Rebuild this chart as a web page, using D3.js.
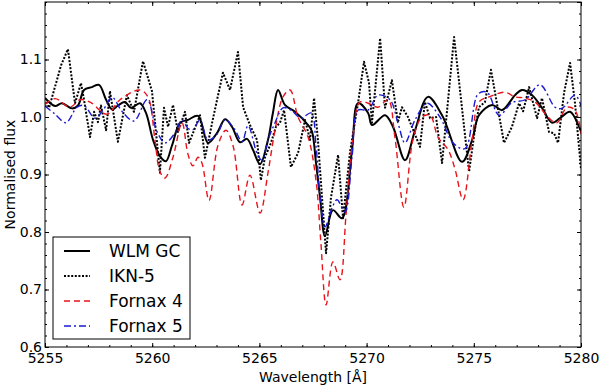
<!DOCTYPE html>
<html>
<head>
<meta charset="utf-8">
<script src="https://cdn.jsdelivr.net/npm/d3@7"></script>
<style>
  body { margin: 0; background: #fff; }
  text { font-family: "DejaVu Sans", sans-serif; }
</style>
</head>
<body>
<div id="chart"></div>
<script>
// wavelength [Å] and normalised flux
const wlmWave = [5255.00, 5255.47, 5255.79, 5256.26, 5256.54, 5256.82, 5257.19, 5257.52, 5257.85, 5258.13, 5258.40, 5258.73, 5259.01, 5259.43, 5259.71, 5260.04, 5260.36, 5260.64, 5260.92, 5261.30, 5261.67, 5262.14, 5262.60, 5263.02, 5263.40, 5263.72, 5264.10, 5264.42, 5264.70, 5265.03, 5265.40, 5265.63, 5265.87, 5266.19, 5266.66, 5267.27, 5267.45, 5267.64, 5267.83, 5268.06, 5268.43, 5268.85, 5269.32, 5269.60, 5270.07, 5270.25, 5270.86, 5271.23, 5271.79, 5272.26, 5272.86, 5273.52, 5274.45, 5274.92, 5275.24, 5275.85, 5276.32, 5276.92, 5277.25, 5277.72, 5278.18, 5278.65, 5279.02, 5279.49, 5279.91, 5280.00]
const wlmFlux = [1.033, 1.019, 1.024, 1.015, 1.020, 1.047, 1.052, 1.056, 1.030, 1.013, 1.020, 1.026, 1.016, 1.024, 1.007, 0.960, 0.932, 0.923, 0.950, 0.990, 0.995, 1.002, 0.955, 0.972, 0.996, 0.983, 0.956, 0.962, 0.943, 0.918, 0.960, 1.007, 1.047, 1.021, 1.009, 0.986, 0.975, 0.920, 0.860, 0.793, 0.838, 0.824, 0.943, 1.024, 1.007, 0.986, 1.003, 0.983, 0.925, 0.977, 1.035, 1.003, 0.922, 0.960, 1.003, 1.021, 1.012, 1.038, 1.047, 1.038, 1.016, 0.990, 0.998, 1.009, 0.983, 0.975]

const iknWave = [5255.05, 5255.19, 5255.75, 5256.07, 5256.40, 5256.68, 5256.82, 5257.10, 5257.29, 5257.47, 5257.61, 5257.85, 5258.03, 5258.40, 5258.82, 5259.15, 5259.57, 5259.99, 5260.36, 5260.55, 5260.74, 5260.97, 5261.20, 5261.53, 5261.72, 5262.23, 5262.46, 5262.84, 5263.30, 5263.63, 5264.00, 5264.24, 5264.56, 5264.89, 5265.07, 5265.26, 5265.54, 5265.77, 5265.96, 5266.15, 5266.47, 5266.80, 5267.13, 5267.36, 5267.55, 5267.73, 5267.92, 5268.11, 5268.34, 5268.67, 5268.90, 5269.23, 5269.60, 5269.88, 5270.11, 5270.25, 5270.63, 5270.86, 5271.18, 5271.46, 5271.65, 5271.93, 5272.49, 5272.72, 5272.96, 5273.24, 5273.52, 5274.08, 5274.78, 5275.06, 5275.24, 5275.52, 5275.80, 5276.41, 5276.78, 5277.11, 5277.30, 5277.58, 5277.95, 5278.18, 5278.51, 5278.74, 5278.93, 5279.21, 5279.49, 5279.72, 5280.00]
const iknFlux = [1.026, 1.016, 1.090, 1.118, 1.024, 1.059, 1.030, 0.965, 1.009, 0.991, 1.020, 0.977, 1.045, 0.957, 1.038, 1.009, 1.097, 1.045, 0.903, 1.016, 0.983, 1.021, 0.974, 1.009, 0.955, 1.003, 0.929, 0.998, 1.077, 1.047, 1.113, 1.017, 0.986, 0.960, 0.890, 0.930, 0.955, 0.983, 0.990, 1.012, 0.913, 0.937, 0.995, 0.960, 1.033, 0.960, 0.860, 0.763, 0.860, 0.934, 0.824, 0.940, 1.024, 1.096, 1.060, 0.990, 1.137, 1.016, 1.064, 0.991, 1.017, 1.000, 0.948, 1.026, 0.998, 1.000, 0.920, 1.139, 0.905, 0.980, 1.017, 1.026, 1.082, 0.955, 0.983, 1.024, 1.010, 1.052, 0.998, 1.033, 0.974, 0.972, 0.955, 1.042, 1.094, 1.024, 0.910]

const for4Wave = [5255.00, 5255.47, 5256.17, 5256.63, 5257.10, 5257.89, 5258.50, 5259.43, 5259.80, 5260.13, 5260.36, 5260.60, 5260.97, 5261.39, 5261.67, 5261.90, 5262.14, 5262.32, 5262.65, 5263.07, 5263.44, 5263.77, 5264.19, 5264.56, 5265.03, 5265.40, 5265.73, 5266.10, 5266.43, 5266.80, 5267.27, 5267.64, 5267.87, 5268.11, 5268.43, 5268.76, 5269.04, 5269.32, 5269.69, 5270.07, 5270.53, 5271.00, 5271.32, 5271.74, 5272.16, 5272.58, 5272.96, 5273.33, 5273.80, 5274.12, 5274.50, 5274.92, 5275.24, 5275.71, 5276.46, 5276.92, 5277.39, 5277.86, 5278.51, 5278.88, 5279.35, 5279.72, 5280.00]
const for4Flux = [1.022, 1.032, 1.017, 1.030, 1.026, 1.005, 1.030, 1.047, 1.035, 0.960, 0.905, 0.894, 0.930, 0.990, 0.935, 0.915, 0.930, 0.920, 0.855, 0.951, 0.977, 0.950, 0.847, 0.899, 0.833, 0.903, 0.977, 1.035, 1.047, 1.000, 0.965, 0.890, 0.780, 0.673, 0.748, 0.717, 0.830, 0.950, 1.026, 1.024, 1.017, 1.030, 0.965, 0.843, 0.960, 1.000, 1.003, 0.965, 0.943, 0.910, 0.856, 0.960, 1.026, 1.035, 1.043, 1.035, 1.033, 1.026, 0.998, 0.990, 1.017, 1.012, 0.970]

const for5Wave = [5255.00, 5255.47, 5255.98, 5256.49, 5256.82, 5257.33, 5257.71, 5258.13, 5258.59, 5259.15, 5259.76, 5260.22, 5260.60, 5261.06, 5261.39, 5261.67, 5261.90, 5262.23, 5262.60, 5263.02, 5263.40, 5263.82, 5264.19, 5264.47, 5264.89, 5265.12, 5265.40, 5265.73, 5266.10, 5266.47, 5266.94, 5267.41, 5267.64, 5267.83, 5268.06, 5268.39, 5268.62, 5268.99, 5269.32, 5269.60, 5270.07, 5270.53, 5271.09, 5271.46, 5271.79, 5272.26, 5272.82, 5273.42, 5274.03, 5274.59, 5275.20, 5275.62, 5276.18, 5276.78, 5277.39, 5278.09, 5278.79, 5279.11, 5279.72, 5280.00]
const for5Flux = [1.019, 1.005, 0.990, 1.017, 1.020, 0.998, 1.012, 1.034, 1.010, 0.993, 1.030, 0.975, 0.955, 0.972, 0.995, 0.980, 0.978, 0.995, 0.960, 0.970, 0.995, 0.980, 0.957, 0.985, 0.937, 0.925, 0.960, 0.990, 1.016, 1.012, 0.998, 1.007, 0.950, 0.860, 0.809, 0.842, 0.856, 0.835, 0.930, 1.012, 1.012, 1.038, 1.030, 0.990, 0.955, 0.995, 1.024, 1.000, 0.955, 0.945, 1.040, 1.043, 1.003, 1.025, 1.030, 1.056, 1.017, 1.015, 1.038, 1.020]

const xTicks = [5255, 5260, 5265, 5270, 5275, 5280]
const yTicks = [0.6, 0.7, 0.8, 0.9, 1.0, 1.1]

const seriesNames = ['WLM GC', 'IKN-5', 'Fornax 4', 'Fornax 5']

const W = 600
const H = 388
const margin = { top: 2, right: 19, bottom: 41, left: 45 }
const iw = W - margin.left - margin.right
const ih = H - margin.top - margin.bottom

const svg = d3.select('#chart')
  .append('svg')
  .attr('width', W)
  .attr('height', H)

svg.append('rect').attr('width', W).attr('height', H).attr('fill', '#fff')

const g = svg.append('g')
  .attr('transform', `translate(${margin.left}, ${margin.top})`)

const x = d3.scaleLinear().domain([5255, 5280]).range([0, iw])
const y = d3.scaleLinear().domain([0.6, 1.2]).range([ih, 0])

const series = [
  { name: seriesNames[0], wave: wlmWave, flux: wlmFlux, color: '#000', width: 2, dash: null, smooth: true },
  { name: seriesNames[1], wave: iknWave, flux: iknFlux, color: '#000', width: 2, dash: '2,1.6', smooth: false },
  { name: seriesNames[2], wave: for4Wave, flux: for4Flux, color: '#e8141c', width: 1.4, dash: '6,4', smooth: true },
  { name: seriesNames[3], wave: for5Wave, flux: for5Flux, color: '#1a1ad0', width: 1.4, dash: '7,3,2,3', smooth: true }
]

g.append('clipPath').attr('id', 'clip')
  .append('rect').attr('width', iw).attr('height', ih)

const plot = g.append('g').attr('clip-path', 'url(#clip)')

series.forEach(s => {
  const line = d3.line()
    .x(d => x(d[0]))
    .y(d => y(d[1]))
    .curve(s.smooth ? d3.curveCatmullRom.alpha(0.5) : d3.curveLinear)
  plot.append('path')
    .datum(s.wave.map((w, i) => [w, s.flux[i]]))
    .attr('d', line)
    .attr('fill', 'none')
    .attr('stroke', s.color)
    .attr('stroke-width', s.width)
    .attr('stroke-dasharray', s.dash)
    .attr('stroke-linejoin', 'round')
})

// ticks point inwards on all four sides
const xMinor = d3.range(5255, 5281, 1)
const yMinor = d3.range(0, 31).map(i => 0.6 + i * 0.02)

function tickAxis (axis, sel, size, values, labels) {
  const a = axis.tickValues(values).tickSize(-size)
  if (!labels) a.tickFormat('')
  sel.call(a)
  sel.select('.domain').remove()
  sel.selectAll('line').attr('stroke', '#000')
  return sel
}

const bottom = g.append('g').attr('transform', `translate(0, ${ih})`)
tickAxis(d3.axisBottom(x).tickPadding(6).tickFormat(d3.format('d')), bottom, 4, xTicks, true)
tickAxis(d3.axisBottom(x), g.append('g').attr('transform', `translate(0, ${ih})`), 2, xMinor, false)
tickAxis(d3.axisTop(x), g.append('g'), 4, xTicks, false)
tickAxis(d3.axisTop(x), g.append('g'), 2, xMinor, false)

const left = g.append('g')
tickAxis(d3.axisLeft(y).tickPadding(3).tickFormat(d3.format('.1f')), left, 4, yTicks, true)
tickAxis(d3.axisLeft(y), g.append('g'), 2, yMinor, false)
tickAxis(d3.axisRight(y), g.append('g').attr('transform', `translate(${iw}, 0)`), 4, yTicks.concat([1.2]), false)
tickAxis(d3.axisRight(y), g.append('g').attr('transform', `translate(${iw}, 0)`), 2, yMinor, false)

g.selectAll('.tick text')
  .attr('font-family', '"DejaVu Sans", sans-serif')
  .attr('font-size', 14)
  .attr('fill', '#000')

g.append('rect')
  .attr('width', iw)
  .attr('height', ih)
  .attr('fill', 'none')
  .attr('stroke', '#000')
  .attr('stroke-width', 1)

// axis labels
svg.append('text')
  .attr('x', margin.left + iw / 2)
  .attr('y', 382)
  .attr('text-anchor', 'middle')
  .attr('font-size', 14)
  .text('Wavelength [Å]')

svg.append('text')
  .attr('transform', `translate(15, ${margin.top + ih / 2}) rotate(-90)`)
  .attr('text-anchor', 'middle')
  .attr('font-size', 14)
  .text('Normalised flux')

// legend
const legend = svg.append('g').attr('transform', 'translate(53, 237)')
legend.append('rect')
  .attr('width', 137)
  .attr('height', 102)
  .attr('fill', '#fff')
  .attr('stroke', '#000')
  .attr('stroke-width', 1)

series.forEach((s, i) => {
  const row = legend.append('g').attr('transform', `translate(0, ${14 + i * 25})`)
  row.append('line')
    .attr('x1', 11).attr('x2', 37)
    .attr('y1', 0).attr('y2', 0)
    .attr('stroke', s.color)
    .attr('stroke-width', s.width)
    .attr('stroke-dasharray', s.dash)
  row.append('text')
    .attr('x', 56)
    .attr('y', 0)
    .attr('dy', '0.35em')
    .attr('font-size', 17)
    .text(s.name)
})
</script>
</body>
</html>
